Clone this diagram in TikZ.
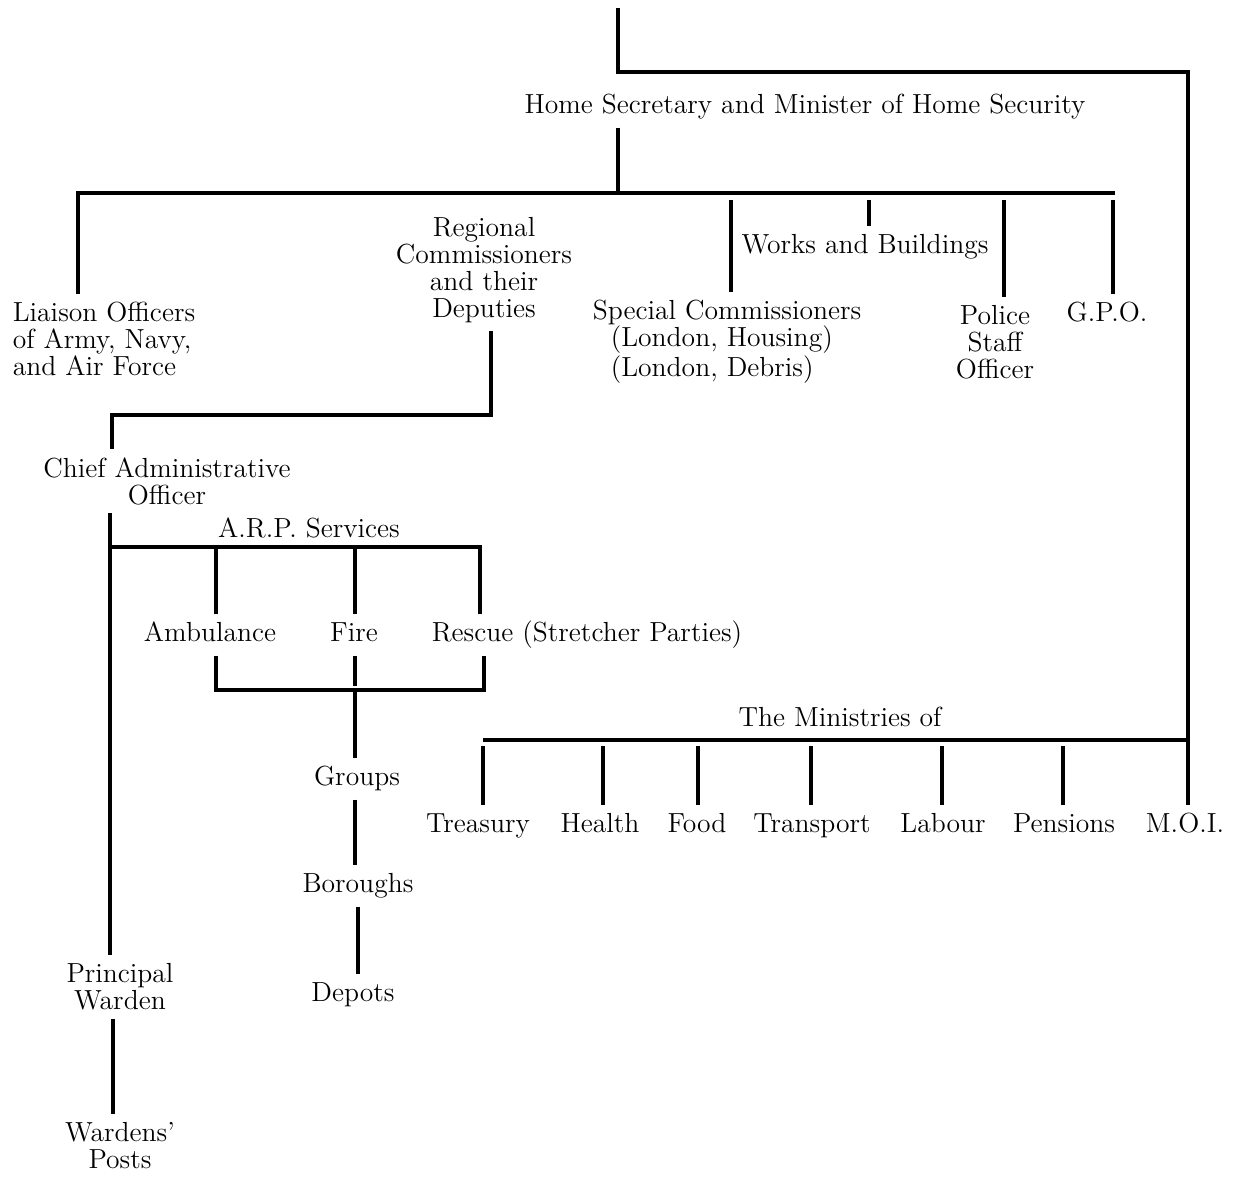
\documentclass[tikz,border=0pt]{standalone}
\usepackage{tikz}

\begin{document}
\begin{tikzpicture}[
  x=0.5pt,y=-0.5pt,
  every node/.style={font=\fontsize{13.8}{13.5}\selectfont,align=center,inner sep=4pt},
  one/.style={text height=9.6pt,text depth=2.7pt},
  ln/.style={line width=1.8pt}
]
\useasboundingbox (0,0) rectangle (1236,1177);
\node[one] (hs) at (805,107) {Home Secretary and Minister of Home Security};
\node[align=left] (liaison) at (104,339) {Liaison Officers\\of Army, Navy,\\and Air Force};
\node (regional) at (484,270) {Regional\\Commissioners\\and their\\Deputies};
\node[one] (works) at (865,247) {Works and Buildings};
\node[align=left] (special) at (727,342) {Special Commissioners\\\hspace*{9pt}(London, Housing)\\\hspace*{9pt}(London, Debris)};
\node (police) at (995,342) {Police\\Staff\\Officer};
\node[one] (gpo) at (1107,315) {G.P.O.};
\node (cao) at (167,481) {Chief Administrative\\Officer};
\node[one] (arp) at (309,531) {A.R.P. Services};
\node[one] (amb) at (210,635) {Ambulance};
\node[one] (fire) at (354,635) {Fire};
\node[one] (rescue) at (587,635) {Rescue (Stretcher Parties)};
\node[one] (groups) at (357,779) {Groups};
\node[one] (boro) at (358,886) {Boroughs};
\node[one] (depots) at (353,995) {Depots};
\node (pw) at (120,987) {Principal\\Warden};
\node (posts) at (120,1146) {Wardens'\\Posts};
\node[one] (minis) at (840,720) {The Ministries of};
\node[one] (treasury) at (478,826) {Treasury};
\node[one] (health) at (600,826) {Health};
\node[one] (food) at (697,826) {Food};
\node[one] (transport) at (812,826) {Transport};
\node[one] (labour) at (943,826) {Labour};
\node[one] (pensions) at (1064,826) {Pensions};
\node[one] (moi) at (1185,826) {M.O.I.};

\coordinate (top) at (618,8);
\coordinate (bend) at (1188,72);
\draw[ln] (top) |- (bend) -- (bend |- moi.north);

\coordinate (mL) at (78,193);
\coordinate (mR) at (1115,193);
\coordinate (mHS) at (618,193);
\draw[ln] (liaison.north -| mL) -- (mL) -- (mR);
\draw[ln] (hs.south -| mHS) -- (mHS);
\foreach \n/\x in {special/731,works/869,police/1004,gpo/1113}
  \draw[ln] (\x,200) -- (\n.north -| \x,0);

\coordinate (r1) at (491,415);
\coordinate (r2) at (112,415);
\draw[ln] (regional.south -| r1) -- (r1) -- (r2) -- (cao.north -| r2);

\coordinate (aL) at (110,547);
\coordinate (aR) at (480,547);
\draw[ln] (cao.south -| aL) -- (pw.north -| aL);
\draw[ln] (aL) -- (aR) -- (rescue.north -| aR);
\foreach \n/\x in {amb/216,fire/355}
  \draw[ln] (\x,547) -- (\n.north -| \x,0);

\coordinate (bL) at (216,690);
\coordinate (bR) at (484,690);
\coordinate (bM) at (355,690);
\draw[ln] (amb.south -| bL) -- (bL) -- (bR) -- (rescue.south -| bR);
\draw[ln,shorten >=2pt] (fire.south -| bM) -- (bM);
\draw[ln] (bM) -- (groups.north -| bM);
\draw[ln] (groups.south -| bM) -- (boro.north -| bM);
\draw[ln] (boro.south) -- (depots.north -| boro.south);

\coordinate (pwx) at (113,1070);
\draw[ln] (pw.south -| pwx) -- (posts.north -| pwx);

\coordinate (nL) at (483,740);
\coordinate (nR) at (1188,740);
\draw[ln] (nL) -- (nR);
\foreach \n/\x in {treasury/483,health/603,food/698,transport/811,labour/942,pensions/1063}
  \draw[ln] (\x,746) -- (\n.north -| \x,0);
\end{tikzpicture}
\end{document}
